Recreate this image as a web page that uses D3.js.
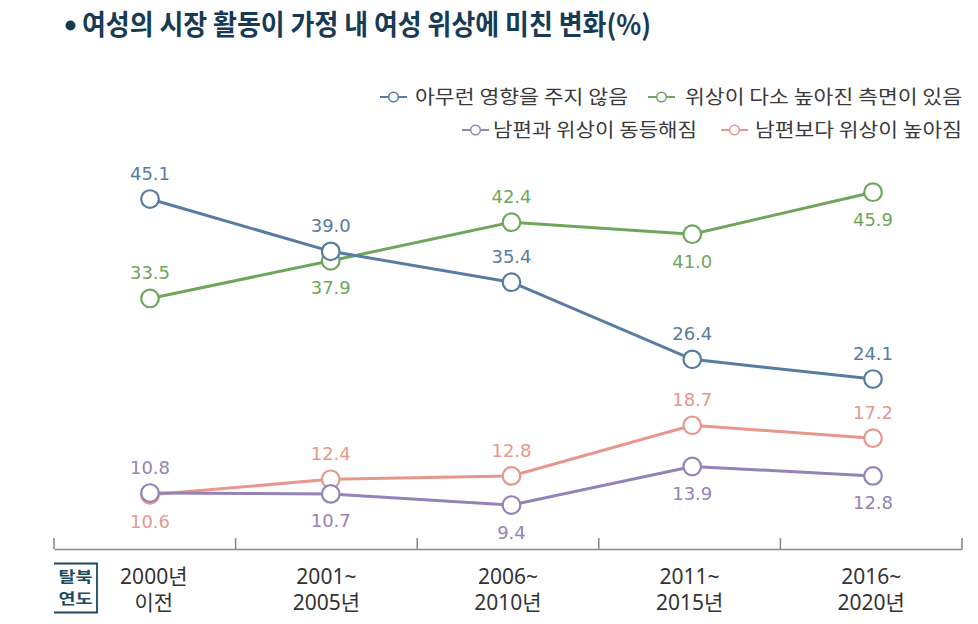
<!DOCTYPE html>
<html><head><meta charset="utf-8">
<script src="https://cdn.jsdelivr.net/npm/d3@7"></script>
<style>body{margin:0;background:#fff}</style>
</head><body><svg id="c" width="978" height="624"></svg>
<script>
// ---- data ----
const categories = ["2000년 이전", "2001~ 2005년", "2006~ 2010년", "2011~ 2015년", "2016~ 2020년"];
const categoryLines = [["2000년", "이전"], ["2001~", "2005년"], ["2006~", "2010년"], ["2011~", "2015년"], ["2016~", "2020년"]];
const seriesNames = ["아무런 영향을 주지 않음", "위상이 다소 높아진 측면이 있음", "남편과 위상이 동등해짐", "남편보다 위상이 높아짐"];
const noEffect = [45.1, 39.0, 35.4, 26.4, 24.1];
const somewhatHigher = [33.5, 37.9, 42.4, 41.0, 45.9];
const equalToHusband = [10.8, 10.7, 9.4, 13.9, 12.8];
const higherThanHusband = [10.6, 12.4, 12.8, 18.7, 17.2];
const title = "여성의 시장 활동이 가정 내 여성 위상에 미친 변화(%)";
const axisTag = ["탈북", "연도"];

// label side per point: 1 = above, -1 = below
const series = [
  {name: seriesNames[1], values: somewhatHigher, color: "#6fa65c", side: [1, -1, 1, -1, -1]},
  {name: seriesNames[0], values: noEffect, color: "#587ba1", side: [1, 1, 1, 1, 1]},
  {name: seriesNames[3], values: higherThanHusband, color: "#e8978c", side: [-1, 1, 1, 1, 1]},
  {name: seriesNames[2], values: equalToHusband, color: "#9483b6", side: [1, -1, -1, -1, -1]}
];
const colorOf = name => series.find(s => s.name === name).color;

const svg = d3.select("#c");
const KFONT = "'Noto Sans CJK KR', 'Noto Sans', sans-serif";

// scales
const xBand = d3.scaleBand().domain(categories).range([54, 962]);
const xPt = d3.scalePoint().domain(categories).range([150, 873]);
const y = d3.scaleLinear().domain([0, 50]).range([585.6, 157.05]);

// title
svg.append("circle").attr("cx", 70.5).attr("cy", 25.5).attr("r", 5).attr("fill", "#173a55");
svg.append("text").attr("x", 82).attr("y", 35).text(title)
  .attr("font-family", KFONT).attr("font-weight", 700).attr("font-size", 28)
  .attr("fill", "#173a55").attr("textLength", 569).attr("lengthAdjust", "spacingAndGlyphs");

// legend
const legendItems = [
  {name: seriesNames[0], lx: 380, tx: 415, tw: 213, cy: 97},
  {name: seriesNames[1], lx: 648, tx: 685, tw: 277, cy: 97},
  {name: seriesNames[2], lx: 462, tx: 493, tw: 204, cy: 130},
  {name: seriesNames[3], lx: 721, tx: 755, tw: 207, cy: 130}
];
const lg = svg.append("g");
legendItems.forEach(d => {
  const c = colorOf(d.name);
  lg.append("line").attr("x1", d.lx).attr("x2", d.lx + 27).attr("y1", d.cy).attr("y2", d.cy)
    .attr("stroke", c).attr("stroke-width", 2);
  lg.append("circle").attr("cx", d.lx + 13.5).attr("cy", d.cy).attr("r", 4.8)
    .attr("fill", "#fff").attr("stroke", c).attr("stroke-width", 1.5);
  lg.append("text").attr("x", d.tx).attr("y", d.cy).attr("dy", "0.36em").text(d.name)
    .attr("font-family", KFONT).attr("font-size", 19).attr("fill", "#3a3a3a")
    .attr("textLength", d.tw).attr("lengthAdjust", "spacingAndGlyphs");
});

// x axis
const baseY = 549;
const axis = d3.axisBottom(xBand).tickSize(0).tickFormat("");
const ag = svg.append("g").attr("transform", `translate(0,${baseY})`).call(axis);
ag.select(".domain").attr("stroke", "#8c8c8c").attr("stroke-width", 1.6);
const bounds = categories.map(c => xBand(c)).concat([xBand.range()[1]]);
svg.append("g").selectAll("line").data(bounds).join("line")
  .attr("x1", d => d).attr("x2", d => d).attr("y1", baseY - 11).attr("y2", baseY)
  .attr("stroke", "#8c8c8c").attr("stroke-width", 1.6);

const xl = svg.append("g");
categories.forEach((c, i) => {
  const cx = xBand(c) + xBand.bandwidth() / 2 + (i === 0 ? 9 : 0);
  categoryLines[i].forEach((t, j) => {
    xl.append("text").attr("x", cx).attr("y", 576 + j * 26).attr("dy", "0.36em")
      .attr("text-anchor", "middle").text(t)
      .attr("font-family", "'Noto Sans', 'Noto Sans CJK KR', sans-serif").attr("font-size", 21)
      .attr("fill", "#333");
  });
});

// axis tag box
const tg = svg.append("g");
tg.append("path").attr("d", "M54,563.5 H97 V612.5 H54").attr("fill", "none")
  .attr("stroke", "#1d4a60").attr("stroke-width", 1.8);
const tagText = tg.append("text").attr("text-anchor", "middle")
  .attr("font-family", KFONT).attr("font-weight", 700).attr("font-size", 15)
  .attr("fill", "#1d4a60");
axisTag.forEach((t, j) => {
  tagText.append("tspan").attr("x", 75.5).attr("y", 577 + j * 22).attr("dy", "0.36em")
    .attr("textLength", 34).attr("lengthAdjust", "spacingAndGlyphs").text(t);
});

// series
const line = d3.line().x((d, i) => xPt(categories[i])).y(d => y(d));
series.forEach(s => {
  const g = svg.append("g");
  g.append("path").datum(s.values).attr("d", line).attr("fill", "none")
    .attr("stroke", s.color).attr("stroke-width", 3);
  g.selectAll("circle").data(s.values).join("circle")
    .attr("cx", (d, i) => xPt(categories[i])).attr("cy", d => y(d)).attr("r", 8.8)
    .attr("fill", "#fff").attr("stroke", s.color).attr("stroke-width", 2.2);
  g.selectAll("text").data(s.values).join("text")
    .attr("x", (d, i) => xPt(categories[i]))
    .attr("y", (d, i) => y(d) + (s.side[i] > 0 ? -25.5 : 27))
    .attr("dy", "0.36em").attr("text-anchor", "middle")
    .text(d => d.toFixed(1))
    .attr("font-family", "'DejaVu Sans', sans-serif").attr("font-size", 18)
    .attr("fill", s.color);
});
</script></body></html>
